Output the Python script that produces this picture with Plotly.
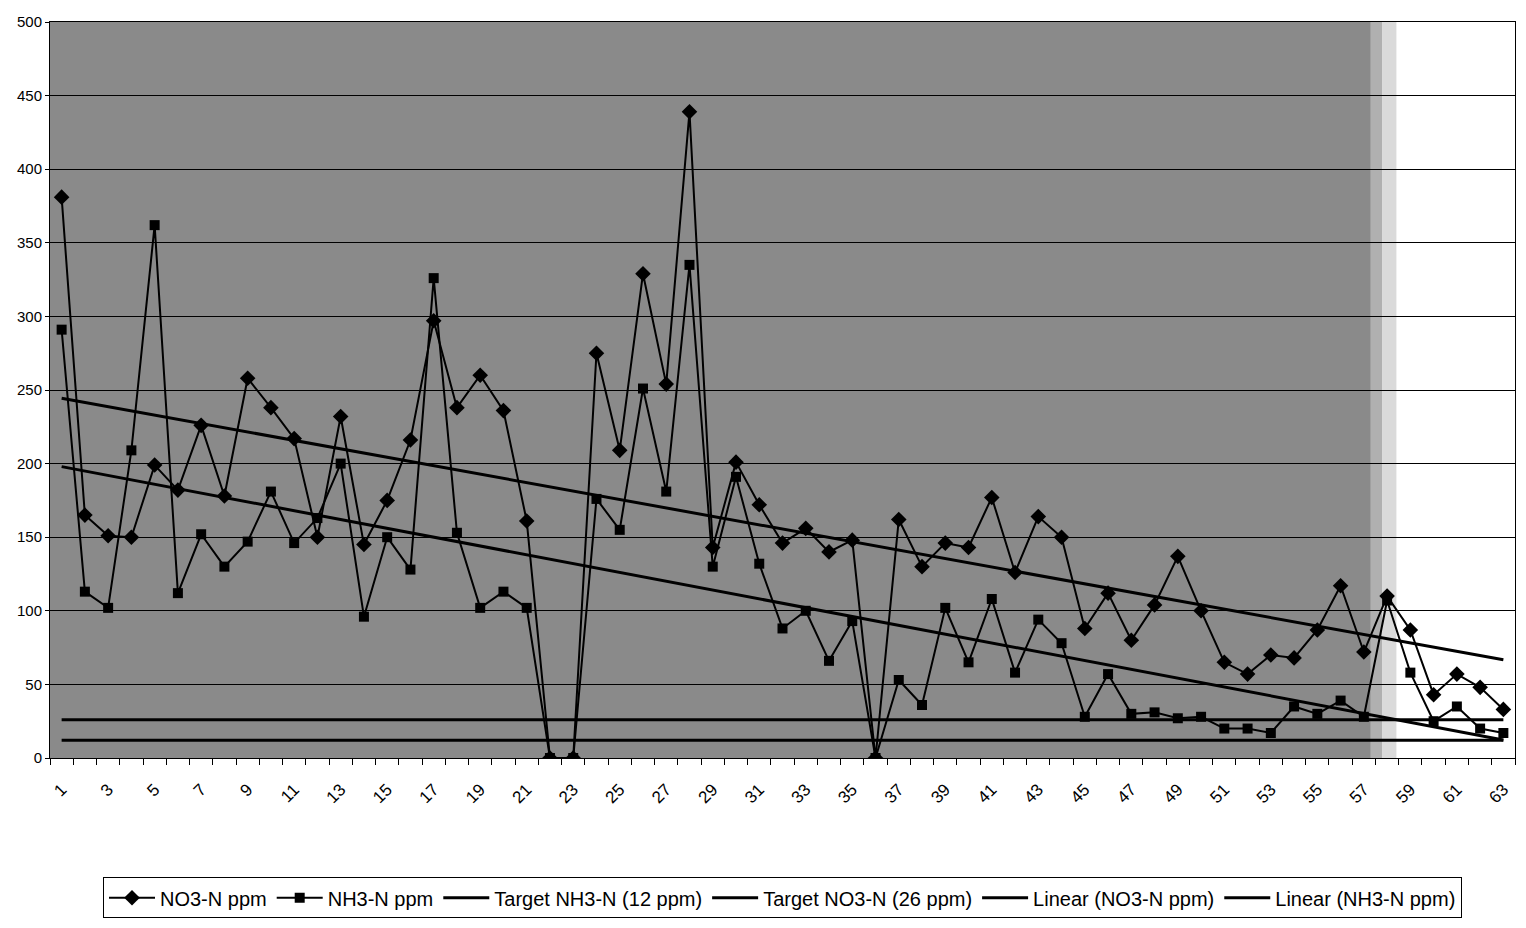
import numpy as np
import plotly.graph_objects as go

samples = list(range(1, 64))
no3_ppm = [381, 165, 151, 150, 199, 182, 226, 178, 258, 238,
           217, 150, 232, 145, 175, 216, 297, 238, 260, 236,
           161, 0, 0, 275, 209, 329, 254, 439, 143, 201,
           172, 146, 156, 140, 148, 0, 162, 130, 146, 143,
           177, 126, 164, 150, 88, 112, 80, 104, 137, 100,
           65, 57, 70, 68, 87, 117, 72, 110, 87, 43,
           57, 48, 33]
nh3_ppm = [291, 113, 102, 209, 362, 112, 152, 130, 147, 181,
           146, 163, 200, 96, 150, 128, 326, 153, 102, 113,
           102, 0, 0, 176, 155, 251, 181, 335, 130, 191,
           132, 88, 100, 66, 93, 0, 53, 36, 102, 65,
           108, 58, 94, 78, 28, 57, 30, 31, 27, 28,
           20, 20, 17, 35, 30, 39, 28, 107, 58, 25,
           35, 20, 17]
target_nh3 = 12
target_no3 = 26
x_tick_labels = [str(v) for v in range(1, 64, 2)]

x = np.array(samples, dtype=float)
p_no3 = np.polyfit(x, np.array(no3_ppm, dtype=float), 1)
p_nh3 = np.polyfit(x, np.array(nh3_ppm, dtype=float), 1)

FONT = "Liberation Sans Narrow, Liberation Sans, Arial"

fig = go.Figure()
fig.add_trace(go.Scatter(x=samples, y=no3_ppm, name="NO3-N ppm", mode="lines+markers",
                         line=dict(color="black", width=2),
                         marker=dict(symbol="diamond", size=12, color="black")))
fig.add_trace(go.Scatter(x=samples, y=nh3_ppm, name="NH3-N ppm", mode="lines+markers",
                         line=dict(color="black", width=2),
                         marker=dict(symbol="square", size=10, color="black")))
fig.add_trace(go.Scatter(x=samples, y=[target_nh3] * len(samples), name="Target NH3-N (12 ppm)",
                         mode="lines", line=dict(color="black", width=3)))
fig.add_trace(go.Scatter(x=samples, y=[target_no3] * len(samples), name="Target NO3-N (26 ppm)",
                         mode="lines", line=dict(color="black", width=3)))
fig.add_trace(go.Scatter(x=samples, y=list(np.polyval(p_no3, x)), name="Linear (NO3-N ppm)",
                         mode="lines", line=dict(color="black", width=3)))
fig.add_trace(go.Scatter(x=samples, y=list(np.polyval(p_nh3, x)), name="Linear (NH3-N ppm)",
                         mode="lines", line=dict(color="black", width=3)))

shapes = [
    dict(type="rect", xref="x", yref="paper", x0=0.5, x1=57.3, y0=0, y1=1,
         fillcolor="#8a8a8a", line=dict(width=0), layer="below"),
    dict(type="rect", xref="x", yref="paper", x0=57.3, x1=57.8, y0=0, y1=1,
         fillcolor="#b0b0b0", line=dict(width=0), layer="below"),
    dict(type="rect", xref="x", yref="paper", x0=57.8, x1=58.4, y0=0, y1=1,
         fillcolor="#dadada", line=dict(width=0), layer="below"),
]

fig.update_layout(
    width=1526, height=928,
    margin=dict(l=42, r=19, t=14, b=178, autoexpand=False),
    paper_bgcolor="white", plot_bgcolor="white",
    font=dict(family=FONT, size=16, color="black"),
    showlegend=True,
    legend=dict(orientation="h", x=0.5, xanchor="center", y=-0.162, yanchor="top",
                bordercolor="black", borderwidth=1, font=dict(family=FONT, size=20),
                itemwidth=46, tracegroupgap=0),
    shapes=shapes,
)
fig.update_xaxes(range=[0.5, 63.5], tickmode="array", tickvals=list(range(1, 64, 2)),
                 ticktext=x_tick_labels, tickangle=-45, ticks="", showgrid=False,
                 showline=True, linecolor="black", linewidth=1, mirror=True,
                 zeroline=False, tickfont=dict(family=FONT, size=17),
                 ticklabelstandoff=14, automargin=False,
                 minor=dict(ticks="outside", tickmode="linear", tick0=0.5, dtick=1,
                            ticklen=6, tickcolor="black", showgrid=False))
fig.update_yaxes(range=[0, 500], dtick=50, showgrid=True, gridcolor="black", gridwidth=1,
                 showline=True, linecolor="black", linewidth=1, mirror=True,
                 ticks="outside", ticklen=4, tickcolor="black", zeroline=False,
                 automargin=False, tickfont=dict(family=FONT, size=15))

fig.write_html("out.html")
